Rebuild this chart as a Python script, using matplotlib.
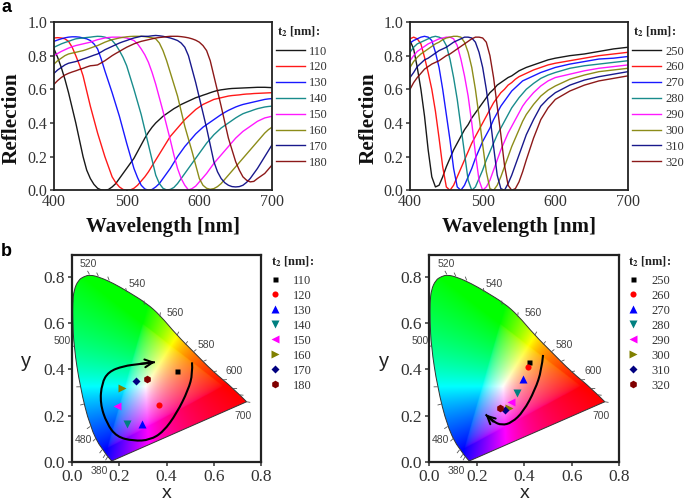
import numpy as np
import matplotlib
matplotlib.use("Agg")
import matplotlib.pyplot as plt
from matplotlib.path import Path
from matplotlib.patches import PathPatch
from matplotlib.ticker import FormatStrFormatter

W, H = 685, 503
colors = ['#000000', '#ff0000', '#0000ff', '#008080', '#ff00ff', '#808000', '#000080', '#800000']
t2_left = ['110', '120', '130', '140', '150', '160', '170', '180']
t2_right = ['250', '260', '270', '280', '290', '300', '310', '320']

wl_left = list(range(400, 701, 5))
R_110 = [.84,.79,.73,.66,.58,.49,.40,.30,.20,.12,.07,.035,.012,.002,.0,.005,.02,.04,.07,.10,.13,.16,.19,.23,.27,.31,.345,.375,.40,.42,.44,.455,.47,.485,.497,.51,.52,.53,.54,.55,.557,.565,.572,.58,.587,.593,.597,.60,.603,.605,.606,.607,.608,.609,.61,.611,.612,.612,.612,.611,.61]
R_120 = [.905,.907,.905,.90,.885,.85,.80,.745,.68,.59,.50,.42,.34,.27,.20,.14,.08,.045,.02,.005,.0,.002,.012,.03,.055,.08,.11,.145,.18,.215,.25,.285,.32,.345,.37,.395,.42,.44,.46,.48,.495,.51,.52,.53,.54,.545,.55,.555,.56,.563,.565,.567,.57,.572,.573,.575,.576,.577,.578,.579,.58]
R_130 = [.885,.893,.90,.906,.91,.912,.912,.91,.905,.90,.89,.87,.84,.78,.71,.645,.58,.51,.44,.36,.28,.205,.13,.075,.03,.008,.0,.005,.02,.04,.07,.10,.13,.165,.20,.23,.26,.285,.31,.335,.355,.375,.39,.405,.42,.435,.45,.463,.475,.485,.495,.503,.51,.515,.52,.525,.53,.535,.54,.543,.545]
R_140 = [.85,.86,.87,.878,.885,.893,.90,.903,.905,.908,.91,.913,.915,.914,.91,.903,.89,.865,.83,.79,.74,.67,.60,.525,.45,.36,.27,.18,.09,.04,.012,.002,.005,.017,.04,.07,.10,.13,.16,.19,.22,.25,.28,.305,.33,.35,.37,.385,.40,.415,.43,.443,.455,.463,.47,.478,.485,.49,.495,.498,.50]
R_150 = [.80,.813,.825,.835,.845,.853,.86,.865,.87,.875,.88,.888,.895,.90,.905,.908,.91,.91,.91,.908,.905,.898,.89,.87,.84,.805,.76,.70,.63,.55,.47,.385,.30,.21,.13,.07,.03,.002,.01,.025,.05,.075,.10,.13,.16,.185,.21,.235,.26,.285,.31,.33,.35,.365,.38,.395,.41,.42,.43,.435,.44]
R_160 = [.75,.77,.785,.80,.81,.815,.82,.825,.83,.837,.845,.853,.86,.87,.88,.888,.895,.90,.905,.909,.912,.914,.915,.915,.915,.913,.91,.906,.90,.875,.83,.77,.70,.63,.56,.47,.38,.305,.23,.15,.07,.03,.012,.006,.01,.022,.04,.065,.09,.115,.14,.165,.19,.215,.24,.265,.29,.315,.34,.36,.375]
R_170 = [.695,.715,.73,.745,.755,.76,.765,.772,.78,.787,.795,.803,.81,.822,.835,.845,.855,.865,.875,.883,.89,.898,.905,.91,.915,.915,.915,.918,.92,.918,.915,.91,.905,.898,.89,.875,.85,.80,.72,.64,.55,.46,.37,.27,.17,.11,.07,.045,.03,.022,.02,.022,.03,.047,.07,.10,.13,.165,.20,.235,.27]
R_180 = [.63,.652,.67,.685,.695,.703,.71,.718,.725,.733,.74,.742,.745,.757,.77,.785,.80,.813,.825,.838,.85,.86,.87,.878,.885,.89,.895,.90,.905,.908,.91,.913,.915,.915,.915,.913,.91,.906,.90,.892,.88,.86,.83,.77,.68,.59,.50,.405,.31,.24,.17,.12,.08,.06,.05,.053,.07,.085,.10,.125,.15]

wl_right = list(range(400, 561, 5)) + [570, 580, 590, 600, 620, 640, 660, 680, 700]
R_250 = [.89,.84,.73,.60,.44,.24,.08,.02,.03,.08,.14,.19,.24,.28,.32,.36,.39,.43,.46,.49,.52,.55,.58,.60,.625,.64,.655,.67,.68,.695,.71,.72,.73,.745,.76,.775,.785,.80,.81,.825,.84,.85]
R_260 = [.90,.91,.90,.87,.79,.70,.60,.47,.31,.14,.02,.0,.03,.08,.13,.18,.23,.28,.32,.36,.40,.44,.48,.52,.55,.58,.60,.625,.64,.66,.675,.685,.695,.715,.73,.745,.755,.77,.785,.80,.81,.82]
R_270 = [.875,.89,.90,.91,.915,.91,.89,.82,.73,.60,.45,.30,.13,.02,.0,.03,.08,.13,.19,.24,.29,.33,.37,.42,.46,.50,.53,.56,.59,.61,.63,.65,.66,.68,.70,.715,.73,.75,.765,.78,.785,.795]
R_280 = [.82,.85,.87,.88,.89,.90,.91,.915,.91,.90,.86,.78,.67,.54,.38,.22,.06,.0,.02,.07,.12,.18,.23,.28,.33,.37,.41,.45,.49,.52,.55,.575,.60,.635,.665,.685,.70,.725,.74,.75,.76,.77]
R_290 = [.77,.80,.825,.84,.855,.87,.88,.89,.90,.905,.91,.91,.90,.86,.78,.68,.56,.40,.22,.06,.0,.02,.06,.12,.18,.24,.29,.34,.38,.42,.46,.50,.53,.58,.62,.65,.67,.69,.71,.725,.735,.745]
R_300 = [.73,.765,.79,.81,.825,.84,.855,.87,.88,.895,.905,.91,.915,.915,.91,.88,.82,.73,.60,.44,.27,.11,.01,.0,.03,.08,.14,.20,.26,.31,.36,.41,.45,.51,.56,.595,.62,.66,.685,.705,.715,.725]
R_310 = [.67,.70,.735,.755,.775,.785,.80,.815,.83,.84,.85,.865,.88,.89,.90,.91,.91,.905,.88,.82,.73,.60,.44,.26,.09,.01,.0,.04,.09,.15,.21,.27,.33,.42,.50,.545,.58,.625,.655,.675,.69,.705]
R_320 = [.60,.64,.67,.695,.72,.735,.75,.76,.77,.785,.80,.81,.825,.84,.855,.87,.885,.90,.91,.91,.905,.88,.80,.67,.50,.33,.15,.03,.0,.01,.05,.11,.18,.31,.42,.49,.54,.59,.625,.65,.665,.68]

# chromaticity coordinates of the markers
xy_x_left = [.444,.367,.296,.231,.189,.212,.269,.319]
xy_y_left = [.393,.247,.165,.165,.243,.318,.351,.357]
xy_x_right = [.420,.415,.394,.368,.345,.335,.320,.299]
xy_y_right = [.434,.412,.357,.296,.260,.234,.226,.231]
markers = ['s', 'o', '^', 'v', '<', '>', 'D', 'h']
marker_sizes = [3.6, 4.4, 5.5, 5.5, 5.5, 5.5, 4.2, 5.5]

# outline of the colour gamut
locus_x = [.168,.126,.076,.034,.008,.003,.003,.008,.027,.050,.076,.118,.175,.238,.316,.372,.443,.514,.598,.683,.739]
locus_y = [.003,.050,.152,.325,.500,.615,.687,.745,.788,.803,.811,.800,.774,.737,.687,.636,.550,.477,.390,.318,.260]
tick_x = [.073,.111,.157,.231,.306,.372,.445,.48,.514,.555,.598,.64,.683,.71,.739,.15,.14,.126,.10,.076,.05,.034,.008]
tick_y = [.814,.806,.788,.738,.683,.632,.55,.51,.477,.435,.39,.355,.318,.29,.26,.02,.03,.05,.10,.152,.25,.325,.5]
locus_labels = ['520', '540', '560', '580', '600', '700', '500', '480', '380']
label_x = [.070,.274,.438,.570,.688,.725,-.040,.047,.115]
label_y = [.856,.770,.645,.508,.392,.198,.522,.095,-.040]

arrow_left_x = [.508,.511,.492,.443,.387,.330,.260,.189,.147,.119,.126,.154,.217,.288,.351]
arrow_left_y = [.431,.383,.311,.210,.130,.094,.090,.108,.166,.253,.340,.390,.415,.424,.432]
arrow_right_x = [.479,.473,.445,.396,.347,.305,.269,.237]
arrow_right_y = [.463,.398,.311,.217,.169,.158,.174,.205]

serif = 'Liberation Serif'
sans = 'Liberation Sans'
fig = plt.figure(figsize=(W / 100, H / 100), dpi=100)
plt.rcParams['font.family'] = serif


def axes_px(x0, x1, ytop, ybot):
    return fig.add_axes([x0 / W, 1 - ybot / H, (x1 - x0) / W, (ybot - ytop) / H])


def style(ax, fs, lw):
    for s in ax.spines.values():
        s.set_linewidth(lw)
        s.set_color('#222222')
    ax.tick_params(which='major', length=3, width=1.1, labelsize=fs, colors='#333333', pad=2)


def title_text(ax, x, y):
    ax.text(x, y, r't$_{\mathbf{2}}$ [nm]:', transform=ax.transAxes, fontsize=9,
            fontweight='bold', family=serif, va='center', ha='left', color='#222222',
            math_fontfamily='stix')


def spectra(pos, wl, series, names, legx, ylab_x):
    ax = axes_px(*pos)
    for r, c, n in zip(series, colors, names):
        ax.plot(wl, r, color=c, lw=1.0, label=n, alpha=.9)
    ax.set_xlim(400, 700)
    ax.set_ylim(0, 1)
    ax.set_xticks([400, 500, 600, 700])
    ax.set_yticks(np.arange(0, 1.01, .2))
    style(ax, 11.5, 1.3)
    ax.tick_params(axis='x', length=1)
    ax.yaxis.set_major_formatter(FormatStrFormatter('%.1f'))
    ax.set_xlabel('Wavelength [nm]', fontsize=15, fontweight='bold', labelpad=4.5, color='#111111')
    ax.set_ylabel('Reflection', fontsize=15.3, fontweight='bold', color='#111111')
    ax.yaxis.set_label_coords(ylab_x, .43)
    ax.legend(loc='upper left', bbox_to_anchor=(legx, .86), frameon=False, fontsize=9,
              handlelength=2.32, handletextpad=.32, labelspacing=.31, borderpad=0, borderaxespad=0,
              labelcolor='#333333')
    title_text(ax, legx + .002, .94)
    return ax


def smooth_path(xs, ys, close=False):
    pts = np.column_stack([xs, ys])
    verts = [pts[0]]
    codes = [Path.MOVETO]
    for i in range(1, len(pts) - 1):
        verts += [pts[i], (pts[i] + pts[i + 1]) / 2 if i < len(pts) - 2 else pts[i + 1]]
        codes += [Path.CURVE3, Path.CURVE3]
    if close:
        verts += [pts[0]]
        codes += [Path.LINETO]
    return Path(verts, codes)


def gamut_image(ax):
    gy = np.linspace(.001, .9, 500)
    gx = np.linspace(.001, .8, 500)
    xx, yy = np.meshgrid(gx, gy)
    X, Y, Z = xx / yy, np.ones_like(xx), (1 - xx - yy) / yy
    r = 3.2406 * X - 1.5372 * Y - .4986 * Z
    g = -.9689 * X + 1.8758 * Y + .0415 * Z
    b = .0557 * X - .2040 * Y + 1.0570 * Z
    raw = np.dstack([r, g, b])
    outside = (raw < 0).any(axis=2, keepdims=True)
    rgb = np.clip(raw, 0, None)
    rgb = rgb / rgb.max(axis=2, keepdims=True)
    rgb = np.where(outside, rgb ** (1 / 1.25), rgb ** (1 / 1.7))
    im = ax.imshow(rgb, extent=(0, .8, 0, .9), origin='lower', aspect='auto', interpolation='bilinear', zorder=1)
    patch = PathPatch(smooth_path(locus_x, locus_y, close=True), transform=ax.transData,
                      fc='none', ec='#333333', lw=.7, zorder=2)
    ax.add_patch(patch)
    im.set_clip_path(patch)
    for xv, yv in zip(tick_x, tick_y):
        dx, dy = xv - .33, yv - .33
        n = np.hypot(dx, dy)
        ax.plot([xv, xv + .014 * dx / n], [yv, yv + .014 * dy / n], color='#555555', lw=.6, zorder=2)


def chroma(pos, px, py, names, ax_, ay_, legx, titx, ylab_x):
    ax = axes_px(*pos)
    gamut_image(ax)
    ax.set_xlim(0, .8)
    ax.set_ylim(0, .898)
    ax.set_xticks(np.arange(0, .81, .2))
    ax.set_yticks(np.arange(0, .81, .2))
    style(ax, 12.5, 1.6)
    ax.xaxis.set_major_formatter(FormatStrFormatter('%.1f'))
    ax.yaxis.set_major_formatter(FormatStrFormatter('%.1f'))
    ax.set_xlabel('x', fontsize=14, family=sans, color='#222222', va='center')
    ax.xaxis.set_label_coords(.5, -.155)
    ax.set_ylabel('y', fontsize=14.5, family=sans, rotation=0, color='#222222', va='center', ha='center')
    ax.yaxis.set_label_coords(ylab_x, .482)
    for s, xv, yv in zip(locus_labels, label_x, label_y):
        ax.text(xv, yv, s, fontsize=7.5, family=sans, color='#444444', ha='center', va='center', clip_on=False, zorder=5)
    for xv, yv, c, m, s, n in zip(px, py, colors, markers, marker_sizes, names):
        ax.plot([xv], [yv], ls='none', marker=m, ms=s, color=c, mec='none', label=n, zorder=6)
    ax.add_patch(PathPatch(smooth_path(ax_, ay_), fc='none', ec='black', lw=1.5, zorder=5))
    ax.annotate('', xy=(ax_[-1], ay_[-1]), xytext=(ax_[-2], ay_[-2]),
                arrowprops=dict(arrowstyle='->', lw=1.5, color='black', mutation_scale=14, shrinkA=0, shrinkB=0), zorder=5)
    ax.legend(loc='upper left', bbox_to_anchor=(legx, .904), frameon=False, fontsize=9,
              handlelength=1.5, handletextpad=.7, labelspacing=.24, borderpad=0, borderaxespad=0,
              numpoints=1, labelcolor='#333333')
    title_text(ax, titx, .966)
    return ax


spectra((54, 272, 22, 190.3), wl_left, [R_110, R_120, R_130, R_140, R_150, R_160, R_170, R_180], t2_left, 1.02, -.15)
spectra((410, 628, 22, 190.3), wl_right, [R_250, R_260, R_270, R_280, R_290, R_300, R_310, R_320], t2_right, 1.02, -.142)
chroma((72, 261, 254.7, 461.7), xy_x_left, xy_y_left, t2_left, arrow_left_x, arrow_left_y, 1.025, 1.053, -.243)
chroma((429.3, 619.3, 254.7, 461.7), xy_x_right, xy_y_right, t2_right, arrow_right_x, arrow_right_y, 1.025, 1.046, -.238)

fig.text(1 / W, 1 - 7 / H, 'a', fontsize=13, fontweight='bold', family=sans, va='center')
fig.text(1 / W, 1 - 251 / H, 'b', fontsize=13, fontweight='bold', family=sans, va='center')
fig.savefig('out.png', dpi=100, facecolor='white')
